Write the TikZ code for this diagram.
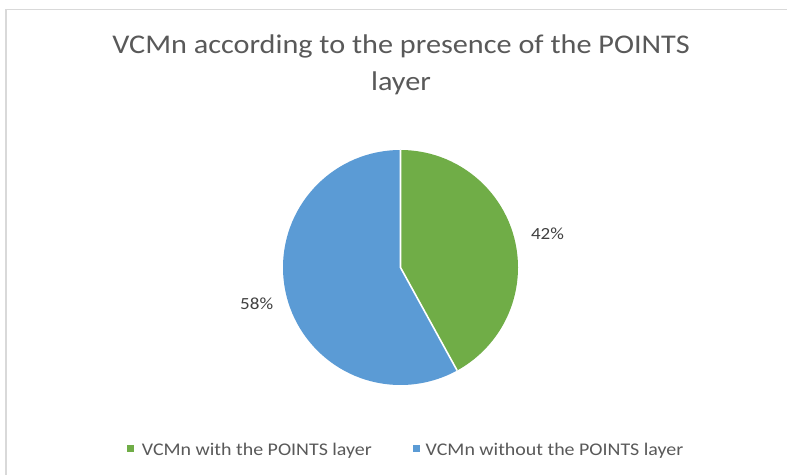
\documentclass[tikz,border=0pt]{standalone}
\usepackage{fontspec}
\setmainfont{Carlito}[FakeStretch=1.12]
\usetikzlibrary{calc}
\definecolor{slicegreen}{HTML}{70AD47}
\definecolor{sliceblue}{HTML}{5B9BD5}
\definecolor{titlegray}{HTML}{595959}
\definecolor{labelgray}{HTML}{404040}
\definecolor{framegray}{HTML}{D9D9D9}
\tikzset{
  charttitle/.style={font=\fontsize{27}{37}\selectfont, text=titlegray, align=center, inner sep=0pt},
  pctlabel/.style={font=\fontsize{17}{20}\selectfont, text=labelgray, inner sep=0pt, anchor=base},
  legendtext/.style={font=\fontsize{17.8}{20}\selectfont, text=titlegray, inner sep=0pt, anchor=base west},
  legendkey/.style={minimum size=7pt, inner sep=0pt, draw=none},
  sep/.style={draw=white, line width=1.6pt}
}
\begin{document}
\begin{tikzpicture}[x=1pt,y=1pt]
  \useasboundingbox (0,0) rectangle (787,474);
  \fill[white] (0,0) rectangle (787,474);
  % chart frame (only top and left edges fall inside)
  \draw[framegray, line width=1.5pt] (6,-2) -- (6,464.5) -- (790,464.5);

  % title
  \node[charttitle, anchor=base] (t1) at (401,420) {VCMn according to the presence of the POINTS};
  \node[charttitle, anchor=base] (t2) at (401,383) {layer};

  % pie: centre and slices
  \coordinate (c) at (400.5,206.5);
  \fill[slicegreen] (c) -- ++(90:117.5) arc[start angle=90, end angle=-61.2, radius=117.5] -- cycle;
  \fill[sliceblue] (c) -- ++(90:117.5) arc[start angle=90, end angle=298.8, radius=117.5] -- cycle;
  \coordinate (top) at ($(c)+(90:117.5)$);
  \coordinate (cut) at ($(c)+(-61.2:117.5)$);
  \draw[sep] (top) -- (c) -- (cut);

  % data labels
  \node[pctlabel] (p42) at (547.5,234) {42\%};
  \node[pctlabel] (p58) at (256.7,164.7) {58\%};

  % legend
  \node[legendkey, fill=slicegreen] (k1) at (130.7,25.2) {};
  \node[legendtext] (l1) at (141.7,19) {VCMn with the POINTS layer};
  \node[legendkey, fill=sliceblue] (k2) at (416.2,25.2) {};
  \node[legendtext] (l2) at (425.5,19) {VCMn without the POINTS layer};
\end{tikzpicture}
\end{document}
